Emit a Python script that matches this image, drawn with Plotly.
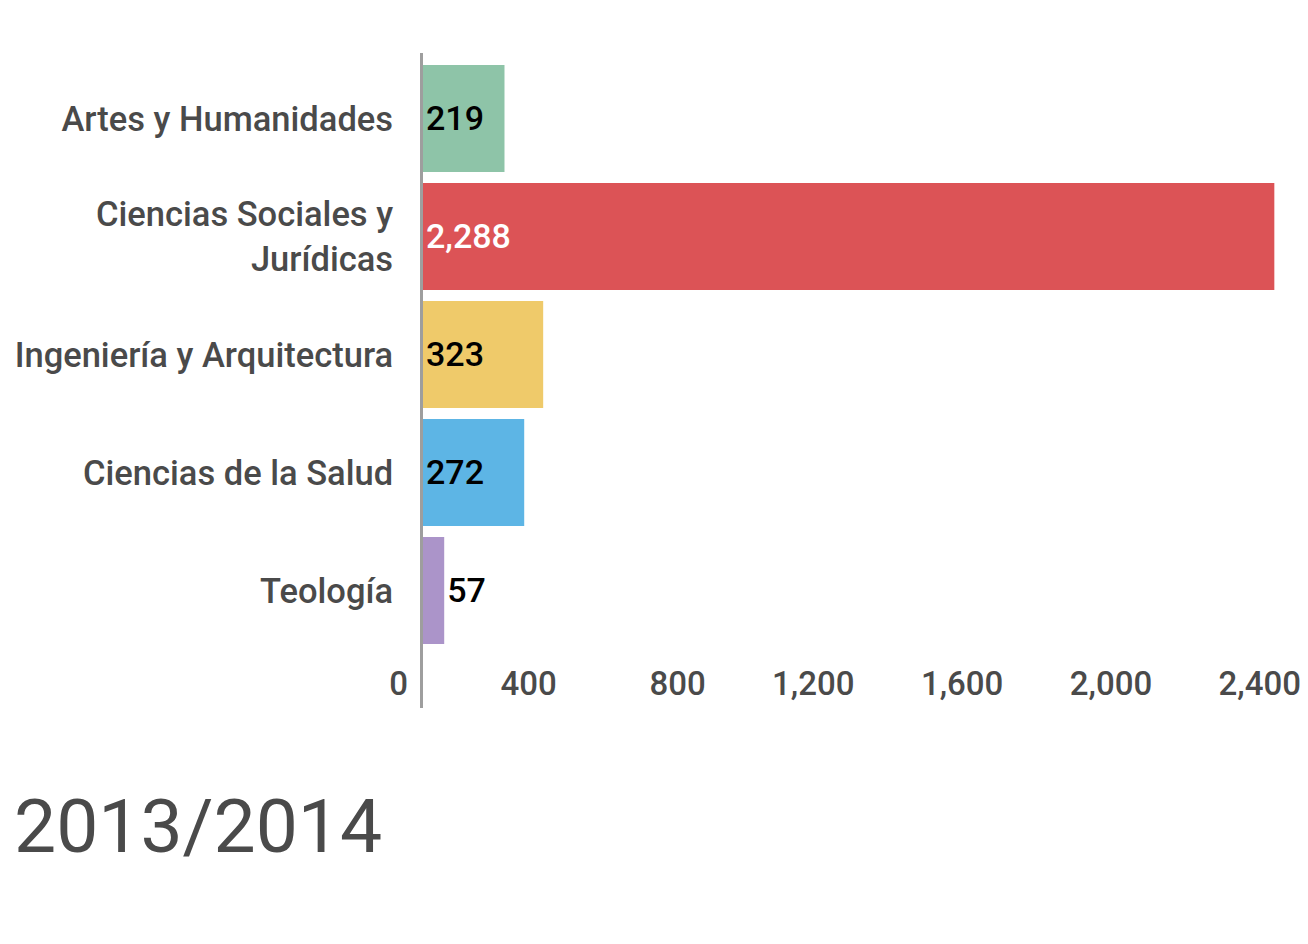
import plotly.graph_objects as go

# datos
ramas = ["Artes y Humanidades", "Ciencias Sociales y<br>Jurídicas",
         "Ingeniería y Arquitectura", "Ciencias de la Salud", "Teología"]
alumnos = [219, 2288, 323, 272, 57]
colores = ["#8EC4A8", "#DC5356", "#EFCA6A", "#5DB5E5", "#AB94C9"]
color_texto = ["#000000", "#FFFFFF", "#000000", "#000000", "#000000"]
ticks_x = [0, 400, 800, 1200, 1600, 2000, 2400]
curso = "2013/2014"

GRIS = "#4a4a4a"

fig = go.Figure()
fig.add_trace(go.Bar(
    y=ramas,
    x=alumnos,
    orientation="h",
    marker=dict(color=colores, line=dict(width=0)),
    texttemplate="%{x:,}",
    textposition="auto",
    insidetextanchor="start",
    textfont=dict(family="Roboto", size=34, color=color_texto, weight=500),
    outsidetextfont=dict(family="Roboto", size=34, color="#000000", weight=500),
    cliponaxis=False,
    hoverinfo="skip",
))

fig.update_layout(
    width=1308, height=944,
    margin=dict(l=415, r=0, t=45, b=244),
    paper_bgcolor="white",
    plot_bgcolor="white",
    bargap=0.093,
    showlegend=False,
    font=dict(family="Roboto", color=GRIS),
    title=dict(
        text=curso,
        xref="container", yref="container",
        x=0.0046, xanchor="left",
        y=0.1335, yanchor="middle",
        font=dict(family="Roboto", size=75, color=GRIS),
    ),
)

fig.update_xaxes(
    range=[0, 2400],
    tickvals=ticks_x,
    tickformat=",",
    ticklabelposition="inside left",
    ticklabeloverflow="allow",
    ticklabelshift=-15,
    ticks="",
    showgrid=False,
    zeroline=False,
    showline=False,
    tickfont=dict(family="Roboto", size=33, color=GRIS, weight=500),
)

fig.update_yaxes(
    range=[4.996, -0.555],
    showline=True,
    linecolor="#9e9e9e",
    linewidth=3,
    showgrid=False,
    zeroline=False,
    ticks="",
    ticklabelstandoff=20,
    tickfont=dict(family="Roboto", size=34.5, color=GRIS, weight=500),
)

fig.write_html("out.html")
